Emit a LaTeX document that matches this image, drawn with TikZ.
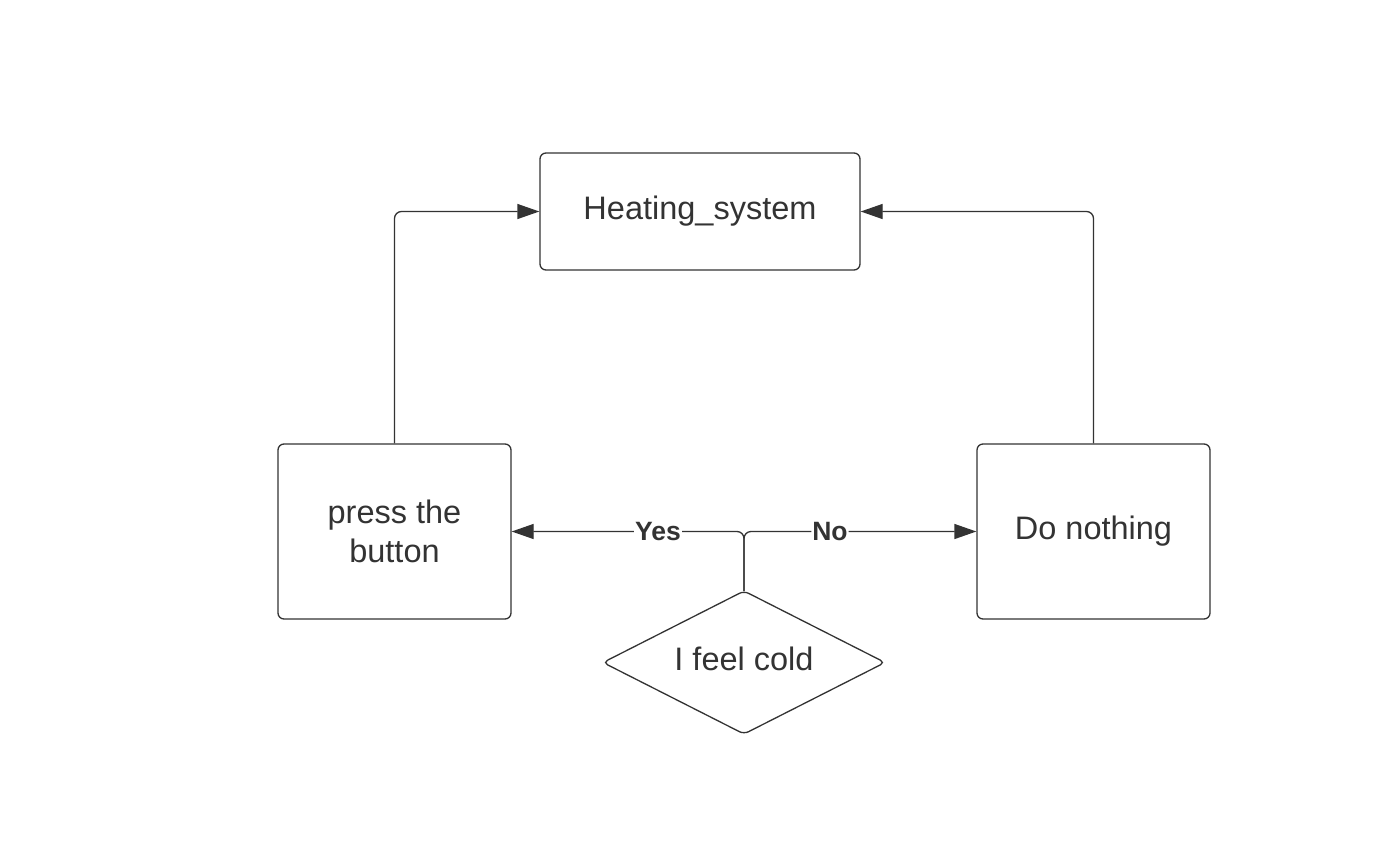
\documentclass[tikz,border=0pt]{standalone}
\usepackage{fontspec}
\setmainfont{Liberation Sans}
\usetikzlibrary{arrows.meta}
\definecolor{ink}{HTML}{333333}
\begin{document}
\begin{tikzpicture}[x=1pt,y=-1pt,
  box/.style={draw=ink,line width=1.3pt,rounded corners=6pt,text=ink,font=\fontsize{32.5}{39}\selectfont,align=center,inner sep=0pt},
  txt/.style={text=ink,font=\fontsize{32.5}{39}\selectfont,inner sep=0pt},
  conn/.style={draw=ink,line width=1.3pt,rounded corners=7pt,-{Triangle[length=22pt,width=15pt]}},
  lbl/.style={fill=white,text=ink,font=\bfseries\fontsize{26.5}{30}\selectfont,inner sep=1pt}]
\useasboundingbox (0,0) rectangle (1400,860);
\node[box,minimum width=320pt,minimum height=117pt] (heat) at (700,211.5) {Heating\_system};
\node[box,minimum width=233pt,minimum height=175pt] (press) at (394.5,531.5) {press the\\button};
\node[box,minimum width=233pt,minimum height=175pt] (none) at (1093.5,531.5) {Do nothing};
\node[txt] (cold) at (744,659) {I feel cold};
\coordinate (coldtop) at (744,591);
\draw[ink,line width=1.3pt,rounded corners=5pt] (coldtop) -- (885,662.5) -- (744,734) -- (603,662.5) -- cycle;
\draw[conn] (press.north) |- (heat.west);
\draw[conn] (none.north) |- (heat.east);
\draw[conn] (coldtop) |- node[lbl,pos=0.685] {Yes} (press.east);
\draw[conn] (coldtop) |- node[lbl,pos=0.685] {No} (none.west);
\end{tikzpicture}
\end{document}
